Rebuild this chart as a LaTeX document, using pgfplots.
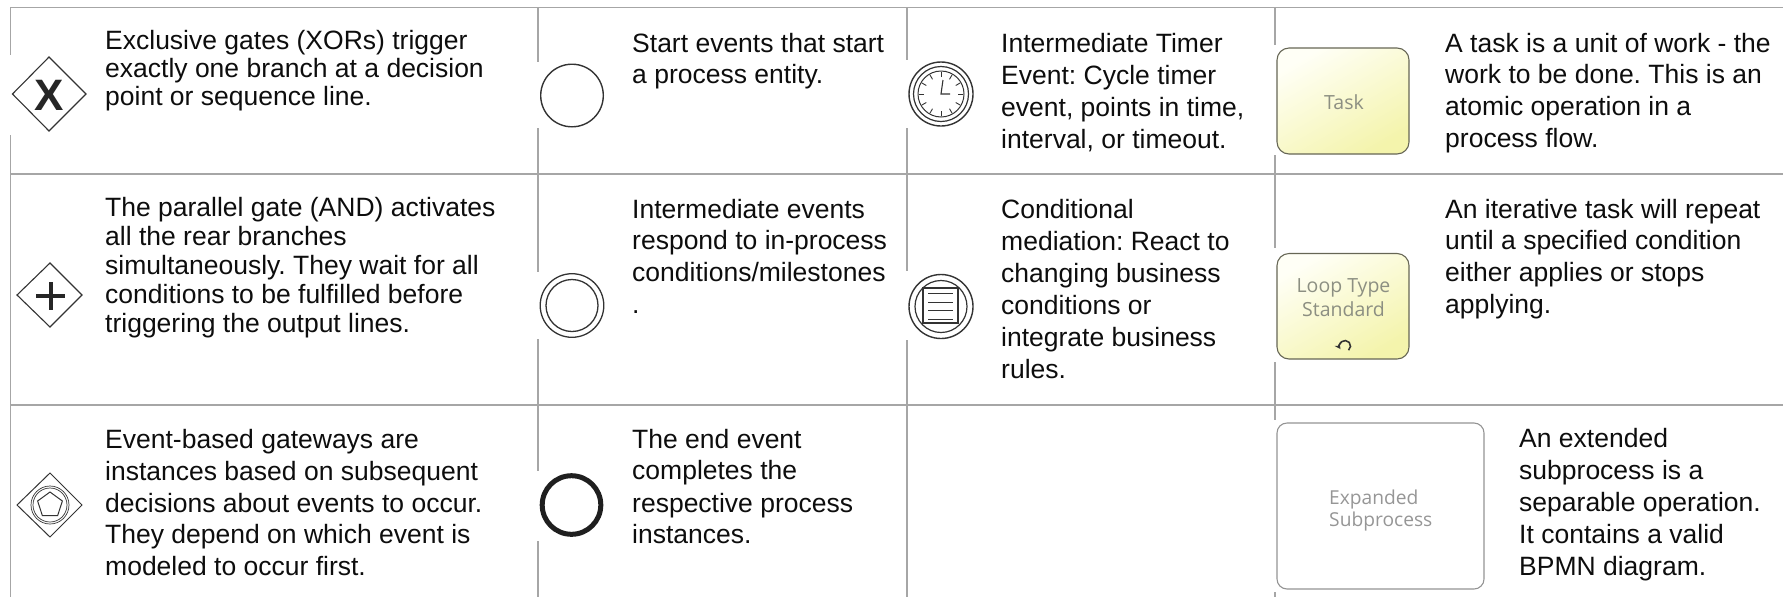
\documentclass[border=0pt]{standalone}
\usepackage{pgfplots}
\pgfplotsset{compat=1.18}
\usepackage{fontspec}
\setmainfont{Liberation Sans}
\newfontfamily\iconfont{Open Sans}
\frenchspacing
\definecolor{gridc}{HTML}{A6A6A6}
\definecolor{ink}{HTML}{0D0D0D}
\definecolor{icon}{HTML}{333333}
\definecolor{lab}{HTML}{8C8F82}
\definecolor{lab2}{HTML}{969696}
\definecolor{boxedge}{HTML}{666655}
\definecolor{ytop}{HTML}{FFFFF6}
\definecolor{ybot}{HTML}{F4F4AC}
\newcommand{\T}[3]{\node[anchor=base west,inner sep=0pt,text=ink,font=\fontsize{26.5}{30}\selectfont] at (axis cs:#1,#2) {#3};}
\pgfplotsset{rule/.style={gridc,line width=1.6pt,mark=none,forget plot}}
\begin{document}
\begin{tikzpicture}
\begin{axis}[width=1784pt,height=598pt,scale only axis,hide axis,
  xmin=0,xmax=1784,ymin=0,ymax=598,y dir=reverse,clip=false]
\path (axis cs:0,0) (axis cs:1784,598);
% horizontal rules
\addplot[rule] coordinates {(10,7.5) (1783,7.5)};
\addplot[rule] coordinates {(10,174) (1783,174)};
\addplot[rule] coordinates {(10,405) (1783,405)};
% vertical rules (broken where the pictures were pasted over them)
\addplot[rule] coordinates {(10.5,7.5) (10.5,55)};
\addplot[rule] coordinates {(10.5,135) (10.5,597)};
\addplot[rule] coordinates {(538,7.5) (538,62)};
\addplot[rule] coordinates {(538,128) (538,272)};
\addplot[rule] coordinates {(538,339) (538,471)};
\addplot[rule] coordinates {(538,541) (538,597)};
\addplot[rule] coordinates {(907,7.5) (907,60)};
\addplot[rule] coordinates {(907,128) (907,271)};
\addplot[rule] coordinates {(907,340) (907,597)};
\addplot[rule] coordinates {(1275,7.5) (1275,45)};
\addplot[rule] coordinates {(1275,155) (1275,248)};
\addplot[rule] coordinates {(1275,362) (1275,420)};
\addplot[rule] coordinates {(1275,592) (1275,597)};

% text column 1
\T{105}{49}{Exclusive gates (XORs) trigger}
\T{105}{77}{exactly one branch at a decision}
\T{105}{105}{point or sequence line.}
\T{105}{216}{The parallel gate (AND) activates}
\T{105}{245}{all the rear branches}
\T{105}{274}{simultaneously. They wait for all}
\T{105}{303}{conditions to be fulfilled before}
\T{105}{332.5}{triggering the output lines.}
\T{105}{448}{Event-based gateways are}
\T{105}{480}{instances based on subsequent}
\T{105}{512}{decisions about events to occur.}
\T{105}{543}{They depend on which event is}
\T{105}{575}{modeled to occur first.}
% text column 2
\T{632}{52}{Start events that start}
\T{632}{83}{a process entity.}
\T{632}{218}{Intermediate events}
\T{632}{249}{respond to in-process}
\T{632}{281}{conditions/milestones}
\T{632}{313}{.}
\T{632}{448}{The end event}
\T{632}{479}{completes the}
\T{632}{512}{respective process}
\T{632}{543}{instances.}
% text column 3
\T{1001}{52}{Intermediate Timer}
\T{1001}{84}{Event: Cycle timer}
\T{1001}{116}{event, points in time,}
\T{1001}{148}{interval, or timeout.}
\T{1001}{218}{Conditional}
\T{1001}{250}{mediation: React to}
\T{1001}{282}{changing business}
\T{1001}{314}{conditions or}
\T{1001}{346}{integrate business}
\T{1001}{378}{rules.}
% text column 4
\T{1445}{52}{A task is a unit of work - the}
\T{1445}{83}{work to be done. This is an}
\T{1445}{115}{atomic operation in a}
\T{1445}{147}{process flow.}
\T{1445}{218}{An iterative task will repeat}
\T{1445}{249}{until a specified condition}
\T{1445}{281}{either applies or stops}
\T{1445}{313}{applying.}
\T{1519}{447}{An extended}
\T{1519}{479}{subprocess is a}
\T{1519}{511}{separable operation.}
\T{1519}{543}{It contains a valid}
\T{1519}{575}{BPMN diagram.}

% XOR gateway
\draw[icon,line width=1.1pt] (axis cs:12.5,94)--(axis cs:49,57)--(axis cs:86,94)--(axis cs:49,131)--cycle;
\node[inner sep=0pt,text=black!85,font=\fontsize{44}{44}\bfseries\selectfont] at (axis cs:49,95) {X};
% AND gateway
\draw[icon,line width=1.1pt] (axis cs:17,295)--(axis cs:50,263)--(axis cs:82,295)--(axis cs:50,327)--cycle;
\draw[black!85,line width=4pt] (axis cs:36,296)--(axis cs:65,296);
\draw[black!85,line width=4pt] (axis cs:50.5,282)--(axis cs:50.5,310);
% Event gateway
\draw[icon,line width=1pt] (axis cs:17,505)--(axis cs:50,473)--(axis cs:82,505)--(axis cs:50,537)--cycle;
\draw[icon,line width=.7pt] (axis cs:50,505) circle[radius=19pt];
\draw[icon,line width=.7pt] (axis cs:50,505) circle[radius=17pt];
\draw[icon,line width=1pt] (axis cs:50,505) ++(90:13pt)--++(-36:15.3pt)--++(-108:15.3pt)--++(-180:15.3pt)--++(108:15.3pt)--cycle;
% events
\draw[icon,line width=1.4pt] (axis cs:572,95.5) circle[radius=31.3pt];
\draw[icon,line width=1.3pt] (axis cs:572,305.5) circle[radius=31.8pt];
\draw[icon,line width=1.3pt] (axis cs:572,305.5) circle[radius=26pt];
\draw[black!88,line width=5pt] (axis cs:571.5,505) circle[radius=29.3pt];
% timer
\draw[icon,line width=1.4pt] (axis cs:941,94) circle[radius=32pt];
\draw[icon,line width=1.2pt] (axis cs:941,94) circle[radius=27.5pt];
\draw[icon,line width=1pt] (axis cs:941,94) circle[radius=23pt];
\pgfplotsinvokeforeach{0,30,...,330}{\draw[icon,line width=.9pt] (axis cs:941,94) ++(#1:17pt)--++(#1:5pt);}
\draw[icon,line width=1.1pt] (axis cs:943,80)--(axis cs:941,94)--(axis cs:950,94);
% conditional
\draw[icon,line width=1.4pt] (axis cs:941,306.5) circle[radius=32pt];
\draw[icon,line width=1.2pt] (axis cs:941,306.5) circle[radius=26pt];
\draw[icon,line width=1.1pt] (axis cs:923,288) rectangle (axis cs:958,323);
\draw[icon,line width=1pt] (axis cs:928,293)--(axis cs:953,293);
\draw[icon,line width=1pt] (axis cs:928,302)--(axis cs:953,302);
\draw[icon,line width=1pt] (axis cs:928,310)--(axis cs:953,310);
\draw[icon,line width=1pt] (axis cs:928,319)--(axis cs:953,319);
% task boxes
\shade[top color=ytop,bottom color=ybot,shading angle=30,draw=boxedge,line width=1.1pt,rounded corners=12pt] (axis cs:1277,48) rectangle (axis cs:1409,154);
\node[anchor=base,inner sep=0pt,text=lab,font=\iconfont\fontsize{19.5}{22}\selectfont] at (axis cs:1344,109) {Task};
\shade[top color=ytop,bottom color=ybot,shading angle=30,draw=boxedge,line width=1.1pt,rounded corners=12pt] (axis cs:1277,253.5) rectangle (axis cs:1409,359);
\node[anchor=base,inner sep=0pt,text=lab,font=\iconfont\fontsize{19.5}{22}\selectfont] at (axis cs:1343.5,292) {Loop Type};
\node[anchor=base,inner sep=0pt,text=lab,font=\iconfont\fontsize{19.5}{22}\selectfont] at (axis cs:1343.5,316) {Standard};
\draw[icon,line width=1.6pt,-stealth] (axis cs:1345,346) ++(-50:5.5pt) arc[start angle=-50,end angle=215,radius=5.5pt];
% expanded
\draw[gray!85,line width=1.1pt,rounded corners=10pt] (axis cs:1277,423) rectangle (axis cs:1484,589);
\node[anchor=base west,inner sep=0pt,text=lab2,font=\iconfont\fontsize{19.2}{22}\selectfont] at (axis cs:1329,504) {Expanded};
\node[anchor=base west,inner sep=0pt,text=lab2,font=\iconfont\fontsize{19.2}{22}\selectfont] at (axis cs:1329,526) {Subprocess};
\end{axis}
\end{tikzpicture}
\end{document}
